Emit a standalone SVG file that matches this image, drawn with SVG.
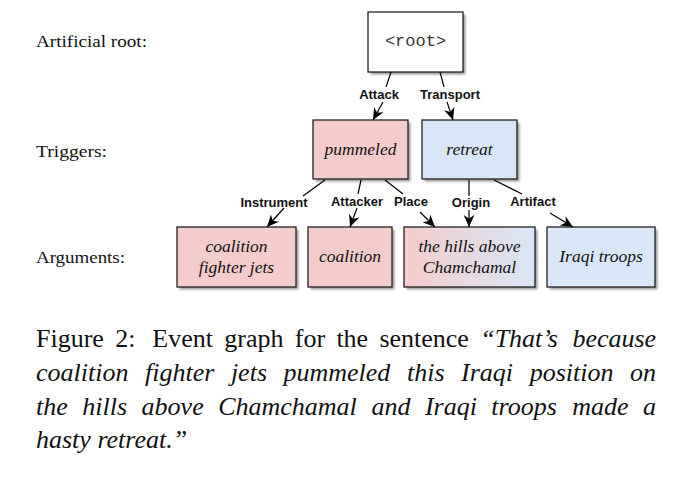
<svg xmlns="http://www.w3.org/2000/svg" width="697" height="502" viewBox="0 0 697 502" font-family="Liberation Serif, serif">
<style>
.box{stroke:#222;stroke-width:1.3}
.shadow{fill:#9a9a9a}
.pink{fill:#f4cccc}
.blue{fill:#d9e6f7}
.white{fill:#fff}
.nt{font-style:italic;font-size:17.5px;fill:#111;text-anchor:middle}
.lab{font-size:17px;fill:#111}
.el{font-weight:bold;font-size:13px;fill:#111;text-anchor:middle}
.edge{stroke:#000;stroke-width:1.2;fill:none}
.arr{stroke:#000;stroke-width:1.2;fill:none;marker-end:url(#ah)}
.cap{font-size:26px;fill:#111}
.it{font-style:italic}
</style>
<defs>
<marker id="ah" markerUnits="userSpaceOnUse" markerWidth="12" markerHeight="12" viewBox="0 0 10 10" refX="10" refY="5" orient="auto">
<path d="M0,0.5 L10,5 L0,9.5 L3,5 z" fill="#000"/>
</marker>
<linearGradient id="grad" x1="0" y1="0" x2="1" y2="0">
<stop offset="0" stop-color="#f4cccc"/>
<stop offset="1" stop-color="#d9e6f7"/>
</linearGradient>
<filter id="blur" x="-10%" y="-10%" width="120%" height="120%"><feGaussianBlur stdDeviation="0.8"/></filter>
</defs>

<g id="row-labels" font-family="Liberation Serif, serif">
<text class="lab" x="36" y="47" textLength="111" lengthAdjust="spacingAndGlyphs">Artificial root:</text>
<text class="lab" x="36" y="157" textLength="71" lengthAdjust="spacingAndGlyphs">Triggers:</text>
<text class="lab" x="36" y="263" textLength="89" lengthAdjust="spacingAndGlyphs">Arguments:</text>
</g>

<g id="root">
<rect class="shadow" x="370.5" y="14.5" width="95" height="60" filter="url(#blur)"/>
<rect class="box white" x="368" y="12" width="95" height="60"/>
<text x="415.5" y="45.5" font-family="Liberation Mono, monospace" font-size="17" fill="#333" text-anchor="middle">&lt;root&gt;</text>
</g>

<g id="pummeled" font-family="Liberation Serif, serif">
<rect class="shadow" x="315.5" y="122.5" width="95" height="59" filter="url(#blur)"/>
<rect class="box pink" x="313" y="120" width="95" height="59"/>
<text class="nt" x="360.5" y="155">pummeled</text>
</g>

<g id="retreat" font-family="Liberation Serif, serif">
<rect class="shadow" x="424.5" y="122.5" width="95" height="59" filter="url(#blur)"/>
<rect class="box blue" x="422" y="120" width="95" height="59"/>
<text class="nt" x="469.5" y="155">retreat</text>
</g>

<g id="arg-jets" font-family="Liberation Serif, serif">
<rect class="shadow" x="179.5" y="229.5" width="119" height="60" filter="url(#blur)"/>
<rect class="box pink" x="177" y="227" width="119" height="60"/>
<text class="nt" x="236.5" y="252">coalition</text>
<text class="nt" x="236.5" y="273">fighter jets</text>
</g>

<g id="arg-coalition" font-family="Liberation Serif, serif">
<rect class="shadow" x="310.5" y="229.5" width="84" height="60" filter="url(#blur)"/>
<rect class="box pink" x="308" y="227" width="84" height="60"/>
<text class="nt" x="350" y="262">coalition</text>
</g>

<g id="arg-hills" font-family="Liberation Serif, serif">
<rect class="shadow" x="406.5" y="229.5" width="131" height="60" filter="url(#blur)"/>
<rect class="box" fill="url(#grad)" x="404" y="227" width="131" height="60"/>
<text class="nt" x="469.5" y="252">the hills above</text>
<text class="nt" x="469.5" y="273">Chamchamal</text>
</g>

<g id="arg-troops" font-family="Liberation Serif, serif">
<rect class="shadow" x="549.5" y="229.5" width="108" height="60" filter="url(#blur)"/>
<rect class="box blue" x="547" y="227" width="108" height="60"/>
<text class="nt" x="601" y="262">Iraqi troops</text>
</g>

<g id="connectors" font-family="Liberation Sans, Arial, sans-serif">
<line class="edge" x1="391" y1="72" x2="386" y2="87"/>
<line class="arr" x1="383" y1="102" x2="373" y2="120"/>
<text class="el" x="379" y="99">Attack</text>
<line class="edge" x1="440" y1="72" x2="444" y2="87"/>
<line class="arr" x1="447" y1="102" x2="453" y2="120"/>
<text class="el" x="450" y="99">Transport</text>

<line class="edge" x1="325" y1="180" x2="303" y2="196"/>
<line class="arr" x1="284" y1="208" x2="267" y2="227"/>
<text class="el" x="274" y="207">Instrument</text>
<line class="edge" x1="361" y1="180" x2="358" y2="194"/>
<line class="arr" x1="357" y1="208" x2="350" y2="227"/>
<text class="el" x="357" y="206">Attacker</text>
<line class="edge" x1="385" y1="180" x2="403" y2="194"/>
<line class="arr" x1="420" y1="212" x2="435" y2="227"/>
<text class="el" x="411" y="206">Place</text>
<line class="edge" x1="469" y1="180" x2="469" y2="196"/>
<line class="arr" x1="469" y1="210" x2="469" y2="227"/>
<text class="el" x="471" y="207">Origin</text>
<line class="edge" x1="494" y1="180" x2="522" y2="194"/>
<line class="arr" x1="550" y1="213" x2="573" y2="227"/>
<text class="el" x="533" y="206">Artifact</text>
</g>

<g id="caption" font-family="Liberation Serif, serif">
<text class="cap" y="347"><tspan x="36">Figure</tspan><tspan x="115.2">2:</tspan><tspan x="152.3">Event</tspan><tspan x="224.3">graph</tspan><tspan x="294.8">for</tspan><tspan x="336.4">the</tspan><tspan x="379.4">sentence</tspan><tspan x="480.2" class="it">“That’s</tspan><tspan x="572.4" class="it">because</tspan></text>
<text class="cap it" y="381"><tspan x="36">coalition</tspan><tspan x="145">fighter</tspan><tspan x="230.9">jets</tspan><tspan x="283.5">pummeled</tspan><tspan x="407">this</tspan><tspan x="461.1">Iraqi</tspan><tspan x="529.7">position</tspan><tspan x="630">on</tspan></text>
<text class="cap it" y="415"><tspan x="36">the</tspan><tspan x="82.3">hills</tspan><tspan x="141.6">above</tspan><tspan x="218.2">Chamchamal</tspan><tspan x="371.4">and</tspan><tspan x="424.9">Iraqi</tspan><tspan x="491.3">troops</tspan><tspan x="572.3">made</tspan><tspan x="643.1">a</tspan></text>
<text class="cap it" x="36" y="448">hasty retreat.”</text>
</g>
</svg>
